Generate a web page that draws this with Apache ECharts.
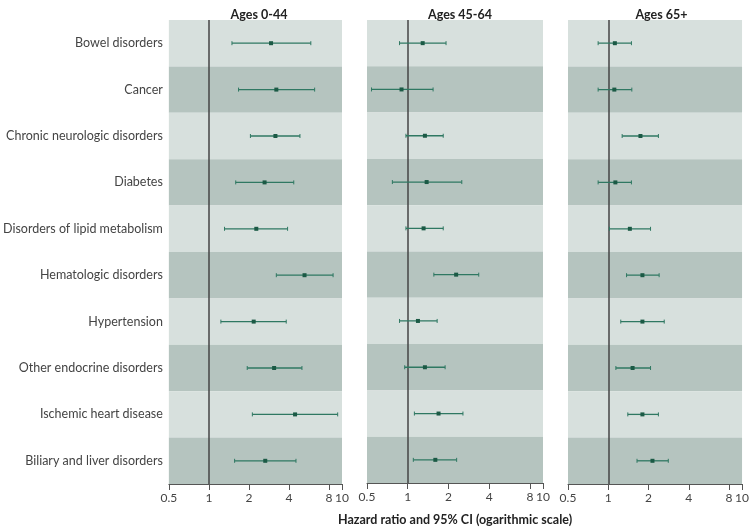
<!DOCTYPE html>
<html>
<head>
<meta charset="utf-8">
<script src="https://cdn.jsdelivr.net/npm/echarts@6/dist/echarts.min.js"></script>
<style>html,body{margin:0;padding:0;background:#fff}#c{width:752px;height:531px}</style>
</head>
<body>
<div id="c"></div>
<script>
const categories = ["Bowel disorders","Cancer","Chronic neurologic disorders","Diabetes","Disorders of lipid metabolism","Hematologic disorders","Hypertension","Other endocrine disorders","Ischemic heart disease","Biliary and liver disorders"];
const panelTitles = ["Ages 0-44","Ages 45-64","Ages 65+"];
const tickValues = [0.5,1,2,4,8,10];

const est044 = [2.93,3.21,3.16,2.62,2.27,5.23,2.17,3.09,4.44,2.65];
const lo044  = [1.49,1.67,2.05,1.59,1.31,3.21,1.23,1.94,2.12,1.56];
const hi044  = [5.83,6.23,4.83,4.34,3.90,8.57,3.81,5.00,9.28,4.51];

const est4564 = [1.29,0.90,1.34,1.38,1.31,2.28,1.19,1.34,1.69,1.60];
const lo4564  = [0.87,0.54,0.97,0.77,0.97,1.56,0.87,0.95,1.12,1.10];
const hi4564  = [1.92,1.54,1.83,2.51,1.83,3.35,1.65,1.89,2.56,2.30];

const est65 = [1.12,1.11,1.74,1.13,1.45,1.80,1.80,1.52,1.80,2.14];
const lo65  = [0.84,0.84,1.27,0.84,1.02,1.37,1.24,1.14,1.40,1.64];
const hi65  = [1.49,1.50,2.37,1.49,2.07,2.40,2.62,2.07,2.37,2.81];

const groups = [[est044,lo044,hi044],[est4564,lo4564,hi4564],[est65,lo65,hi65]];

const FONT = 'Lato, "Noto Sans", sans-serif';
const grids = [
  {left:166, width:176, top:20, height:464},
  {left:367, width:176, top:20, height:464},
  {left:568, width:177, top:20, height:464}
];

const xAxes = grids.map((g,i)=>({
  gridIndex:i, type:'log', logBase:2, min:0.5, max:10, interval:1,
  axisLine:{show:true, lineStyle:{color:'#555', width:1}},
  axisTick:{show:true, length:6, lineStyle:{color:'#555'}},
  splitLine:{show:false},
  axisLabel:{color:'#444', fontSize:12, fontFamily:FONT, margin:8,
    formatter:v=>{const r=Math.round(v*10)/10; return String(r);}},
  name: i===1 ? 'Hazard ratio and 95% CI (ogarithmic scale)' : '',
  nameLocation:'middle', nameGap:30,
  nameTextStyle:{color:'#222', fontSize:12.5, fontWeight:'bold', fontFamily:FONT}
}));

const yAxes = grids.map((g,i)=>({
  gridIndex:i, type:'category', data:categories, inverse:true,
  axisLine:{show:false}, axisTick:{show:false},
  splitLine:{show:false},
  splitArea:{show:true, areaStyle:{color:['#d7e0dd','#b5c4bf']}},
  axisLabel:{show:i===0, color:'#444', fontSize:12.5, fontFamily:FONT, margin:6}
}));

function renderItem(params, api){
  const y = api.value(0);
  const pE = api.coord([api.value(1), y]);
  const pL = api.coord([api.value(2), y]);
  const pH = api.coord([api.value(3), y]);
  const lc = '#2f7862';
  return {type:'group', children:[
    {type:'line', shape:{x1:pL[0],y1:pL[1],x2:pH[0],y2:pH[1]}, style:{stroke:lc, lineWidth:1.3}},
    {type:'line', shape:{x1:pL[0],y1:pL[1]-2,x2:pL[0],y2:pL[1]+2}, style:{stroke:lc, lineWidth:1}},
    {type:'line', shape:{x1:pH[0],y1:pH[1]-2,x2:pH[0],y2:pH[1]+2}, style:{stroke:lc, lineWidth:1}},
    {type:'rect', shape:{x:pE[0]-2,y:pE[1]-2,width:4,height:4}, style:{fill:'#1b5a45'}}
  ]};
}

const series = [];
groups.forEach((g,i)=>{
  const data = categories.map((c,k)=>[k, g[0][k], g[1][k], g[2][k]]);
  series.push({
    type:'custom', xAxisIndex:i, yAxisIndex:i, renderItem, data,
    encode:{x:[1,2,3], y:0}, z:5,
    markLine:{silent:true, symbol:'none', label:{show:false},
      lineStyle:{color:'#444', width:1.5, type:'solid'},
      data:[{xAxis:1}]}
  });
});

const chart = echarts.init(document.getElementById('c'), null, {renderer:'canvas'});
chart.setOption({
  animation:false,
  backgroundColor:'#fff',
  title: panelTitles.map((t,i)=>({
    text:t, left: grids[i].left + grids[i].width/2, top:3, textAlign:'center',
    textStyle:{color:'#222', fontSize:12.5, fontWeight:'bold', fontFamily:FONT}
  })),
  grid: grids,
  xAxis: xAxes,
  yAxis: yAxes,
  series
});
</script>
</body>
</html>
